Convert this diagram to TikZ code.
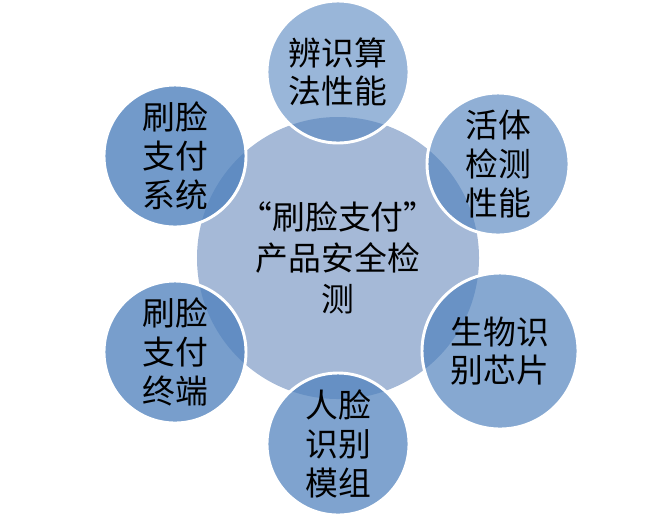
\documentclass[tikz,border=0pt]{standalone}
\usepackage{fontspec}
\newfontfamily\cjk{Noto Sans CJK SC}
\definecolor{hubfill}{RGB}{165,185,215}
\definecolor{accent}{RGB}{79,129,189}
\begin{document}
\begin{tikzpicture}[x=0.03cm,y=-0.03cm,
  hub/.style={circle,inner sep=0pt,minimum size=8.46cm,fill=hubfill,align=center,
    font=\cjk\fontsize{28}{35}\selectfont},
  part/.style={circle,inner sep=0pt,minimum size=4.26cm,fill=accent,draw=white,
    line width=2.5pt,text opacity=1,align=center,font=\cjk\fontsize{28}{33}\selectfont}]
\useasboundingbox (0,0) rectangle (656,520);
% centre
\node [hub] (hub) at (338,258) {“刷脸支付”\\产品安全检\\测};
% top
\node [part,fill opacity=.58] (algo) at (338,72) {辨识算\\法性能};
% upper right
\node [part,fill opacity=.63] (live) at (498,164) {活体\\检测\\性能};
% lower right
\node [part,fill opacity=.69,minimum size=4.68cm] (chip) at (500,351) {生物识\\别芯片};
% bottom
\node [part,fill opacity=.73] (module) at (338,444) {人脸\\识别\\模组};
% lower left
\node [part,fill opacity=.77] (terminal) at (175,352) {刷脸\\支付\\终端};
% upper left
\node [part,fill opacity=.80] (system) at (175,156) {刷脸\\支付\\系统};
\end{tikzpicture}
\end{document}
